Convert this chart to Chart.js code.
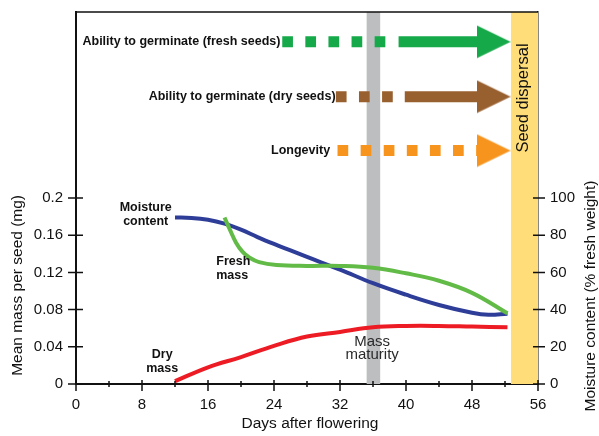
<!DOCTYPE html>
<html>
<script src="https://cdn.jsdelivr.net/npm/chart.js"></script>
<style type="text/css">
  body { margin: 0; background: #fff; }
  .chartBox { width: 599px; height: 436px; }
</style>
<body>
  <div class="chartBox">
    <canvas id="myChart"></canvas>
  </div>

  <script>
    // curves: days after flowering
    const moistDays = [12, 14, 16, 18, 20, 22, 24, 26, 28, 32, 36, 40, 44, 48, 50, 52.3];
    const moistVals = [89.5, 89.3, 88.3, 86.2, 83, 79, 75.3, 71.8, 68.3, 61.5, 54.2, 48, 42.5, 38.3, 37.2, 37.8];

    const freshDays = [18, 18.6, 19.4, 20.2, 21, 22.2, 24.3, 28, 32, 36, 40, 44, 48, 52.3];
    const freshVals = [0.179, 0.167, 0.152, 0.142, 0.136, 0.131, 0.128, 0.127, 0.127, 0.125, 0.119, 0.111, 0.098, 0.076];

    const dryDays = [12, 16, 20, 24, 28, 32, 36, 40, 44, 48, 52.3];
    const dryVals = [0.003, 0.018, 0.029, 0.041, 0.051, 0.056, 0.061, 0.0624, 0.0624, 0.0617, 0.061];

    // shaded periods (days)
    const maturityBand = [35.2, 36.9];
    const dispersalBand = [52.7, 56];

    // arrows (fresh seeds, dry seeds, longevity)
    const arrowNames = ['Ability to germinate (fresh seeds)', 'Ability to germinate (dry seeds)', 'Longevity'];
    const arrowLevel = [0.368, 0.309, 0.251];
    const dashFrom = [25.0, 31.5, 31.7];
    const dashTo = [37.5, 38.5, 49.0];
    const barFrom = [39.1, 39.85, null];
    const barTo = [49.0, 49.0, null];
    const headAt = [50.62, 50.62, 50.62];
    const arrowColors = ['#16a94a', '#99602f', '#f7941d'];

    const xTicks = [0, 4, 8, 12, 16, 20, 24, 28, 32, 36, 40, 44, 48, 52, 56];
    const massTicks = [0, 0.04, 0.08, 0.12, 0.16, 0.2];
    const moistTicks = [0, 20, 40, 60, 80, 100];

    const pts = (xs, ys) => xs.map((x, i) => ({x: x, y: ys[i]}));

    function arrowHead(color) {
      const c = document.createElement('canvas');
      c.width = 34; c.height = 34;
      const g = c.getContext('2d');
      g.fillStyle = color;
      g.beginPath();
      g.moveTo(0, 0.5); g.lineTo(34, 17); g.lineTo(0, 33.5);
      g.closePath(); g.fill();
      return c;
    }

    const datasets = [];
    arrowNames.forEach((name, i) => {
      const y = arrowLevel[i];
      datasets.push({
        data: [{x: headAt[i], y: y}], yAxisID: 'y', order: 0,
        showLine: false, pointRadius: 5, pointStyle: arrowHead(arrowColors[i])
      });
      if (barFrom[i] !== null) {
        datasets.push({
          data: [{x: barFrom[i], y: y}, {x: barTo[i], y: y}], yAxisID: 'y', order: 1,
          borderColor: arrowColors[i], borderWidth: 11, borderCapStyle: 'butt', pointRadius: 0
        });
      }
      datasets.push({
        data: [{x: dashFrom[i], y: y}, {x: dashTo[i], y: y}], yAxisID: 'y', order: 1,
        borderColor: arrowColors[i], borderWidth: 11, borderCapStyle: 'butt',
        borderDash: [10.7, 12.4], pointRadius: 0
      });
    });

    datasets.push({
      data: pts(freshDays, freshVals), yAxisID: 'y', order: 2,
      borderColor: '#62bb46', borderWidth: 4, pointRadius: 0, tension: 0.4
    });
    datasets.push({
      data: pts(moistDays, moistVals), yAxisID: 'y1', order: 2,
      borderColor: '#2e3d98', borderWidth: 4, pointRadius: 0, tension: 0.4
    });
    datasets.push({
      data: pts(dryDays, dryVals), yAxisID: 'y', order: 2,
      borderColor: '#ed1c24', borderWidth: 4, pointRadius: 0, tension: 0.4
    });
    [[maturityBand, '#bcbec0'], [dispersalBand, '#ffdd78']].forEach(b => {
      datasets.push({
        data: [{x: b[0][0], y: 0.4}, {x: b[0][1], y: 0.4}], yAxisID: 'y', order: 3,
        borderColor: 'rgba(0,0,0,0)', borderWidth: 0, pointRadius: 0,
        backgroundColor: b[1], fill: 'origin'
      });
    });

    // tick marks that cross the axes
    const tickMarks = {
      id: 'tickMarks',
      afterDraw(chart) {
        const c = chart.ctx, a = chart.chartArea, s = chart.scales;
        c.save();
        c.strokeStyle = '#111';
        c.lineWidth = 1.5;
        c.beginPath();
        xTicks.forEach(v => {
          const px = s.x.getPixelForValue(v);
          const major = v % 8 === 0;
          c.moveTo(px, a.bottom - (major ? 4 : 3));
          c.lineTo(px, a.bottom + (major ? 7 : 3));
        });
        massTicks.forEach(v => {
          const py = s.y.getPixelForValue(v);
          c.moveTo(a.left - 8, py); c.lineTo(a.left + 7, py);
        });
        moistTicks.forEach(v => {
          const py = s.y1.getPixelForValue(v);
          c.moveTo(a.right - 5, py); c.lineTo(a.right + 7, py);
        });
        // top edge of the frame
        c.moveTo(a.left, a.top); c.lineTo(a.right, a.top);
        c.stroke();
        c.restore();
      }
    };

    const notes = [
      {t: [arrowNames[0]], x: 24.78, y: 0.3677, align: 'right', font: 'bold 12.5px Arial'},
      {t: [arrowNames[1]], x: 31.46, y: 0.309, align: 'right', font: 'bold 12.5px Arial'},
      {t: [arrowNames[2]], x: 30.8, y: 0.2509, align: 'right', font: 'bold 12.5px Arial'},
      {t: ['Moisture', 'content'], x: 8.45, y: 0.1892, align: 'center', font: 'bold 12.5px Arial', lh: 0.015},
      {t: ['Fresh', 'mass'], x: 17.0, y: 0.1312, align: 'left', font: 'bold 12.5px Arial', lh: 0.015},
      {t: ['Dry', 'mass'], x: 10.45, y: 0.0312, align: 'center', font: 'bold 12.5px Arial', lh: 0.015},
      {t: ['Mass', 'maturity'], x: 35.9, y: 0.0455, align: 'center', font: '15px Arial', lh: 0.0143, color: '#2a2a2a'}
    ];

    const labels = {
      id: 'labels',
      afterDatasetsDraw(chart) {
        const c = chart.ctx, s = chart.scales, a = chart.chartArea;
        c.save();
        c.textBaseline = 'middle';
        notes.forEach(n => {
          c.font = n.font;
          c.fillStyle = n.color || '#111';
          c.textAlign = n.align;
          n.t.forEach((line, k) => {
            c.fillText(line, s.x.getPixelForValue(n.x), s.y.getPixelForValue(n.y - k * (n.lh || 0)));
          });
        });
        c.fillStyle = '#111';
        c.font = '16.5px Arial';
        c.textAlign = 'center';
        c.save();
        c.translate(s.x.getPixelForValue(54.2), s.y.getPixelForValue(0.3075));
        c.rotate(-Math.PI / 2);
        c.fillText('Seed dispersal', 0, 0);
        c.restore();
        // axis titles
        c.font = '15.5px Arial';
        c.fillText('Days after flowering', (a.left + a.right) / 2 + 3, 424);
        c.save();
        c.translate(18, s.y.getPixelForValue(0.106));
        c.rotate(-Math.PI / 2);
        c.fillText('Mean mass per seed (mg)', 0, 0);
        c.restore();
        c.save();
        c.translate(591, s.y1.getPixelForValue(47.3));
        c.rotate(-Math.PI / 2);
        c.fillText('Moisture content (% fresh weight)', 0, 0);
        c.restore();
        c.restore();
      }
    };

    Chart.defaults.font.family = 'Arial, "Liberation Sans", sans-serif';
    Chart.defaults.color = '#111';

    const ctx = document.getElementById('myChart').getContext('2d');
    const myChart = new Chart(ctx, {
      type: 'line',
      data: { datasets: datasets },
      options: {
        responsive: true,
        maintainAspectRatio: false,
        animation: false,
        layout: { padding: { top: 12, left: 0, right: 0, bottom: 0 } },
        plugins: { legend: false, tooltip: { enabled: false } },
        scales: {
          x: {
            type: 'linear', min: 0, max: 56,
            afterFit(s) { s.height = 52; },
            afterBuildTicks(s) { s.ticks = xTicks.map(v => ({value: v})); },
            ticks: { padding: 12, font: { size: 15 }, maxRotation: 0, autoSkip: false,
              callback: v => (v % 8 === 0 ? v : '') },
            grid: { display: false, drawTicks: false },
            border: { display: true, color: '#111', width: 2 }
          },
          y: {
            position: 'left', min: 0, max: 0.4,
            afterFit(s) { s.width = 76; s.paddingTop = 0; },
            afterBuildTicks(s) { s.ticks = massTicks.map(v => ({value: v})); },
            ticks: { padding: 13, font: { size: 15 },
              callback: v => (v === 0 ? '0' : String(+v.toFixed(2))) },
            grid: { display: false, drawTicks: false },
            border: { display: true, color: '#111', width: 2 }
          },
          y1: {
            position: 'right', min: 0, max: 200,
            afterFit(s) { s.width = 61; s.paddingTop = 0; },
            afterBuildTicks(s) { s.ticks = moistTicks.map(v => ({value: v})); },
            ticks: { padding: 12, font: { size: 15 } },
            grid: { display: false, drawTicks: false },
            border: { display: true, color: '#111', width: 1.5 }
          }
        }
      },
      plugins: [tickMarks, labels]
    });
  </script>

</body>
</html>
